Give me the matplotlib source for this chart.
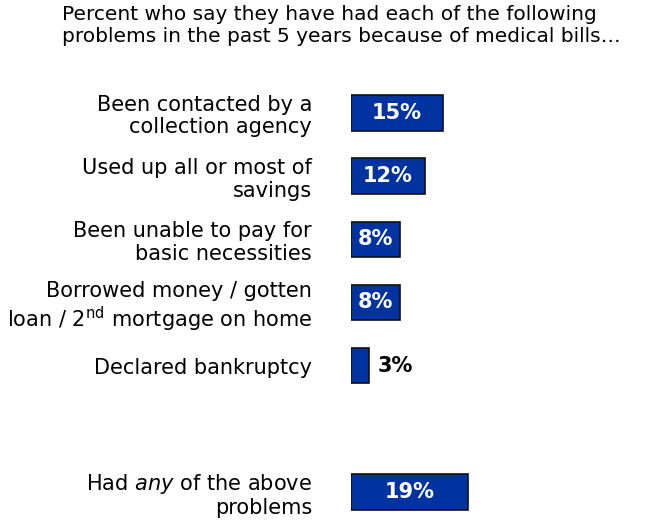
import matplotlib.pyplot as plt

# percent of respondents reporting each problem
labels = [
    "Been contacted by a\ncollection agency",
    "Used up all or most of\nsavings",
    "Been unable to pay for\nbasic necessities",
    "Borrowed money / gotten\nloan / 2$^{\\mathrm{nd}}$ mortgage on home",
    "Declared bankruptcy",
    "Had $\\mathit{any}$ of the above\nproblems",
]
values = [15, 12, 8, 8, 3, 19]
rows = [0, 1, 2, 3, 4, 6]

W, H = 647, 529
fig = plt.figure(figsize=(W / 100, H / 100), dpi=100)
x0 = 351
ax = fig.add_axes([x0 / W, 0, 1 - x0 / W, 1])

px_per_pct = 6.15
ax.set_xlim(0, (W - x0) / px_per_pct)
row_px = 63.2
ax.set_ylim(6 + (H - 492) / row_px, -113 / row_px)

bar_color = "#0033A0"
ax.barh(rows, values, height=0.56, color=bar_color, edgecolor="#111111", linewidth=1.2)

for r, v in zip(rows, values):
    if v >= 6:
        ax.text(v / 2, r, f"{v}%", ha="center", va="center", color="white",
                fontsize=15, fontweight="bold")
    else:
        ax.text(v + 1.4, r, f"{v}%", ha="left", va="center", color="black",
                fontsize=15, fontweight="bold")

ax.set_yticks(rows)
ax.set_yticklabels(labels, fontsize=15, ha="right", linespacing=1.15)
ax.tick_params(axis="y", length=0, pad=28)
ax.set_xticks([])
for s in ax.spines.values():
    s.set_visible(False)

fig.text(62 / W, 1 - 5 / H,
         "Percent who say they have had each of the following\n"
         "problems in the past 5 years because of medical bills\u2026",
         ha="left", va="top", fontsize=14.5, linespacing=1.2)

fig.savefig("out.png", dpi=100, facecolor="white")
